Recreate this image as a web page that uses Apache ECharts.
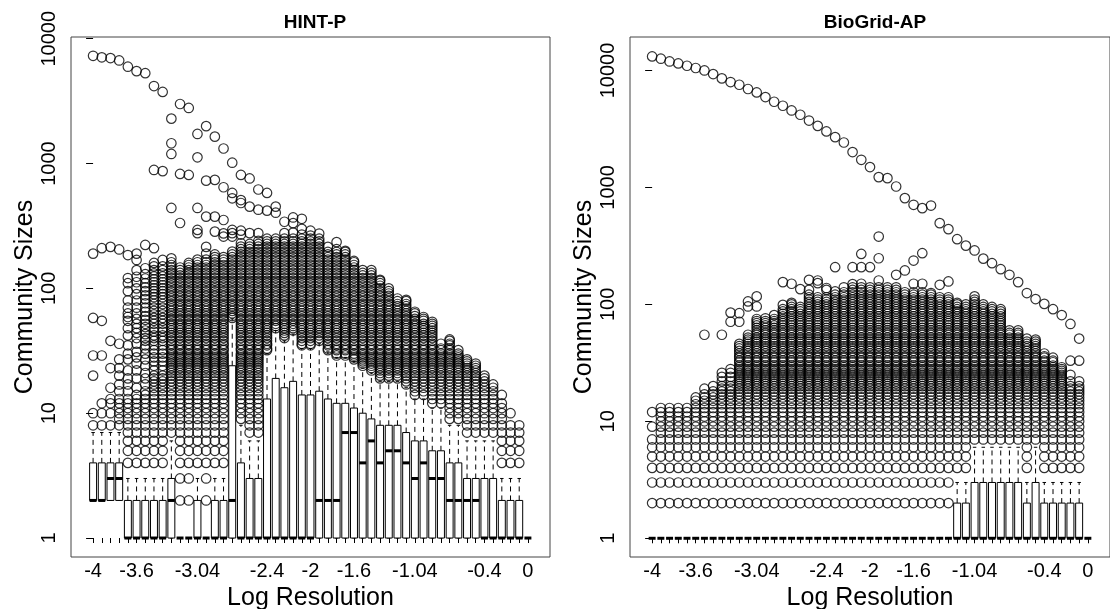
<!DOCTYPE html>
<html><head><meta charset="utf-8">
<script src="https://cdn.jsdelivr.net/npm/echarts@6/dist/echarts.min.js"></script>
<style>html,body{margin:0;padding:0;background:#fff}#c{width:1110px;height:609px}</style>
</head><body><div id="c"></div>
<script>
// ---------- categories / ticks ----------
const resolution = ['-4','-3.92','-3.84','-3.76','-3.68','-3.6','-3.52','-3.44','-3.36','-3.28','-3.2','-3.12','-3.04','-2.96','-2.88','-2.8','-2.72','-2.64','-2.56','-2.48','-2.4','-2.32','-2.24','-2.16','-2.08','-2','-1.92','-1.84','-1.76','-1.68','-1.6','-1.52','-1.44','-1.36','-1.28','-1.2','-1.12','-1.04','-0.96','-0.88','-0.8','-0.72','-0.64','-0.56','-0.48','-0.4','-0.32','-0.24','-0.16','-0.08','0'];
const xLabelShown = ['-4','-3.6','-3.04','-2.4','-2','-1.6','-1.04','-0.4','0'];
const yTickLabels = [1,10,100,1000,10000];

// ---------- HINT-P box statistics ----------
const hintMin = [2,2,2,2,1,1,1,1,1,1,1,1,1,1,1,1,1,1,1,1,1,1,1,1,1,1,1,1,1,1,1,1,1,1,1,1,1,1,1,1,1,1,1,1,1,1,1,1,1,1,1];
const hintQ1  = [2,2,2,2,1,1,1,1,1,1,1,1,1,1,1,1,1,1,1,1,1,1,1,1,1,1,1,1,1,1,1,1,1,1,1,1,1,1,1,1,1,1,1,1,1,1,1,1,1,1,1];
const hintMed = [2,2,3,3,1,1,1,1,1,2,1,1,1,1,1,1,2,1,1,1,1,1,1,1,1,1,2,2,2,7,7,4,6,4,5,5,4,3,4,3,3,2,2,2,2,1,1,1,1,1,1];
const hintQ3  = [4,4,4,4,2,2,2,2,2,3,1,1,2,1,2,2,24,4,3,3,13,19,16,18,14,14,15,13,12,12,11,10,9,8,8,8,7,6,6,5,5,4,4,3,3,3,3,2,2,2,1];
const hintMax = [7,7,7,7,3,3,3,3,3,6,1,1,3,1,3,3,57,8,6,6,30,46,38,43,33,33,36,31,28,28,26,23,21,18,18,18,16,13,13,11,11,8,8,6,6,6,6,3,3,3,1];
const hintOutliers = [
[8,10,20,29,58,190,7300],
[8,10,12,29,55,210,7100],
[8,10,12,13,16,23,38,215,7000],
[8,9,10,11,12,13,15,17,20,23,27,36,205,6700],
[4,5,6,7,8,9,10,11,12,13,15,17,19,22,27,30,35,42,48,55,59,63,70,80,95,110,121,185,5970],
[4,5,6,7,8,9,10,11,12,13,14,16,19,22,25,28,31,36,40,44,48,52,57,63,70,80,90,100,112,124,140,169,190,5500],
[4,5,6,7,8,9,10,11,12,13,14,15,17,19,21,24,27,30,33,35,38,40,43,46,49,52,56,60,65,70,76,82,88,95,102,110,120,130,145,223,5300],
[4,5,6,7,8,9,10,11,12,13,14,15,16,17,18,19,20,22,24,26,28,30,32,35,38,40,42,45,48,52,55,58,62,66,70,75,80,85,90,95,100,106,112,118,125,132,140,150,160,210,889,4180],
[4,5,6,7,8,9,10,11,12,13,14,15,16,17,18,19,20,22,24,26,28,30,32,35,38,40,42,45,48,52,55,58,62,66,70,75,80,85,90,95,100,106,112,118,125,132,140,150,169,870,3750],
[7,8,9,10,11,12,13,14,15,16,17,18,19,20,21,22,23,24,25,26,27,28,29,30,32,33,35,36,38,40,42,44,46,48,50,52,55,57,60,63,66,69,72,75,79,83,87,91,95,100,105,110,115,121,127,133,140,147,154,162,174,441,1194,1455,2290],
[2,3,4,5,6,7,8,9,10,11,12,13,14,15,16,17,18,19,20,21,22,23,24,25,26,27,28,29,30,32,33,35,36,38,40,42,44,46,48,50,52,55,57,60,63,66,69,72,75,79,83,87,91,95,100,105,110,115,121,127,133,140,147,334,826,3000],
[2,3,4,5,6,7,8,9,10,11,12,13,14,15,16,17,18,19,20,21,22,23,24,25,26,27,28,29,30,32,33,35,36,38,40,42,44,46,48,50,52,55,57,60,63,66,69,72,75,79,83,87,91,95,100,105,110,115,121,127,133,140,147,154,160,811,2790],
[4,5,6,7,8,9,10,11,12,13,14,15,16,17,18,19,20,21,22,23,24,25,26,27,28,29,30,32,33,35,36,38,40,42,44,46,48,50,52,55,57,60,63,66,69,72,75,79,83,87,91,95,100,105,110,115,121,127,133,140,147,154,162,170,277,294,441,1122,1727],
[2,3,4,5,6,7,8,9,10,11,12,13,14,15,16,17,18,19,20,21,22,23,24,25,26,27,28,29,30,32,33,35,36,38,40,42,44,46,48,50,52,55,57,60,63,66,69,72,75,79,83,87,91,95,100,105,110,115,121,127,133,140,147,154,162,170,190,215,376,730,1995],
[4,5,6,7,8,9,10,11,12,13,14,15,16,17,18,19,20,21,22,23,24,25,26,27,28,29,30,32,33,35,36,38,40,42,44,46,48,50,52,55,57,60,63,66,69,72,75,79,83,87,91,95,100,105,110,115,121,127,133,140,147,154,162,170,178,187,285,376,740,1643],
[4,5,6,7,8,9,10,11,12,13,14,15,16,17,18,19,20,21,22,23,24,25,26,27,28,29,30,32,33,35,36,38,40,42,44,46,48,50,52,55,57,60,63,66,69,72,75,79,83,87,91,95,100,105,110,115,121,127,133,140,147,154,162,170,178,260,276,353,646,1320],
[58,60,63,66,69,72,75,79,83,87,91,95,100,105,110,115,121,127,133,140,147,154,162,170,178,187,197,260,277,294,527,582,1016],
[9,10,11,12,13,14,15,16,17,18,19,20,21,22,23,24,25,26,27,28,29,30,32,33,35,36,38,40,42,44,46,48,50,52,55,57,60,63,66,69,72,75,79,83,87,91,95,100,105,110,115,121,127,133,140,147,154,162,170,178,187,196,206,216,230,270,290,483,510,811],
[7,8,9,10,11,12,13,14,15,16,17,18,19,20,21,22,23,24,25,26,27,28,29,30,32,33,35,36,38,40,42,44,46,48,50,52,55,57,60,63,66,69,72,75,79,83,87,91,95,100,105,110,115,121,127,133,140,147,154,162,170,178,187,196,206,216,227,277,452,760],
[7,8,9,10,11,12,13,14,15,16,17,18,19,20,21,22,23,24,25,26,27,28,29,30,32,33,35,36,38,40,42,44,46,48,50,52,55,57,60,63,66,69,72,75,79,83,87,91,95,100,105,110,115,121,127,133,140,147,154,162,170,178,187,196,206,216,227,240,277,427,620],
[32,33,35,36,38,40,42,44,46,48,50,52,55,57,60,63,66,69,72,75,79,83,87,91,95,100,105,110,115,121,127,133,140,147,154,162,170,178,187,196,206,216,227,238,250,420,582],
[48,50,52,55,57,60,63,66,69,72,75,79,83,87,91,95,100,105,110,115,121,127,133,140,147,154,162,170,178,187,196,206,216,227,238,250,404,452],
[40,42,44,46,48,50,52,55,57,60,63,66,69,72,75,79,83,87,91,95,100,105,110,115,121,127,133,140,147,154,162,170,178,187,196,206,216,227,238,250,277,342],
[46,48,50,52,55,57,60,63,66,69,72,75,79,83,87,91,95,100,105,110,115,121,127,133,140,147,154,162,170,178,187,196,206,216,227,238,250,280,333,370],
[35,36,38,40,42,44,46,48,50,52,55,57,60,63,66,69,72,75,79,83,87,91,95,100,105,110,115,121,127,133,140,147,154,162,170,178,187,196,206,216,227,238,250,270,300,361],
[35,36,38,40,42,44,46,48,50,52,55,57,60,63,66,69,72,75,79,83,87,91,95,100,105,110,115,121,127,133,140,147,154,162,170,178,187,196,206,216,227,238,250,265,290],
[38,40,42,44,46,48,50,52,55,57,60,63,66,69,72,75,79,83,87,91,95,100,105,110,115,121,127,133,140,147,154,162,170,178,187,196,206,216,227,238,250,275],
[32,33,35,36,38,40,42,44,46,48,50,52,55,57,60,63,66,69,72,75,79,83,87,91,95,100,105,110,115,121,127,133,140,147,154,162,170,178,187,196,215],
[29,30,32,33,35,36,38,40,42,44,46,48,50,52,55,57,60,63,66,69,72,75,79,83,87,91,95,100,105,110,115,121,127,133,140,147,154,162,170,178,187,196,206,235],
[29,30,32,33,35,36,38,40,42,44,46,48,50,52,55,57,60,63,66,69,72,75,79,83,87,91,95,100,105,110,115,121,127,133,140,147,154,162,170,178,187,196,200],
[27,28,29,30,32,33,35,36,38,40,42,44,46,48,50,52,55,57,60,63,66,69,72,75,79,83,87,91,95,100,105,110,115,121,127,133,140,147,154,162,166],
[24,25,26,27,28,29,30,32,33,35,36,38,40,42,44,46,48,50,52,55,57,60,63,66,69,72,75,79,83,87,91,95,100,105,110,115,121,127,133,140],
[22,23,24,25,26,27,28,29,30,32,33,35,36,38,40,42,44,46,48,50,52,55,57,60,63,66,69,72,75,79,83,87,91,95,100,105,110,115,121,127,133,140],
[19,20,21,22,23,24,25,26,27,28,29,30,32,33,35,36,38,40,42,44,46,48,50,52,55,57,60,63,66,69,72,75,79,83,87,91,95,100,105,110,115,117],
[19,20,21,22,23,24,25,26,27,28,29,30,32,33,35,36,38,40,42,44,46,48,50,52,55,57,60,63,66,69,72,75,79,83,87,91,95,100],
[19,20,21,22,23,24,25,26,27,28,29,30,32,33,35,36,38,40,42,44,46,48,50,52,55,57,60,63,66,69,72,75,79,83],
[17,18,19,20,21,22,23,24,25,26,27,28,29,30,32,33,35,36,38,40,42,44,46,48,50,52,55,57,60,63,66,69,72,75,79,81],
[14,15,16,17,18,19,20,21,22,23,24,25,26,27,28,29,30,32,33,35,36,38,40,42,44,46,48,50,52,55,57,60,63,65],
[14,15,16,17,18,19,20,21,22,23,24,25,26,27,28,29,30,32,33,35,36,38,40,42,44,46,48,50,52,55,57,59],
[12,13,14,15,16,17,18,19,20,21,22,23,24,25,26,27,28,29,30,32,33,35,36,38,40,42,44,46,48,50,52,54],
[12,13,14,15,16,17,18,19,20,21,22,23,24,25,26,27,28,29,30,32,33,36],
[9,10,11,12,13,14,15,16,17,18,19,20,21,22,23,24,25,26,27,28,29,30,32,33,35,36,38,39],
[9,10,11,12,13,14,15,16,17,18,19,20,21,22,23,24,25,26,27,28,29,30,32],
[7,8,9,10,11,12,13,14,15,16,17,18,19,20,21,22,23,24,25,26,27],
[7,8,9,10,11,12,13,14,15,16,17,18,19,20,21,22,23,24,25],
[7,8,9,10,11,12,13,14,15,16,17,18,19,20],
[7,8,9,10,11,12,13,14,15,16,17],
[4,5,6,7,8,9,10,11,12,14],
[4,5,6,7,8,10],
[4,5,6,7,8],
[]
];

// ---------- BioGrid-AP box statistics ----------
const bioMin = [1,1,1,1,1,1,1,1,1,1,1,1,1,1,1,1,1,1,1,1,1,1,1,1,1,1,1,1,1,1,1,1,1,1,1,1,1,1,1,1,1,1,1,1,1,1,1,1,1,1,1];
const bioQ1  = [1,1,1,1,1,1,1,1,1,1,1,1,1,1,1,1,1,1,1,1,1,1,1,1,1,1,1,1,1,1,1,1,1,1,1,1,1,1,1,1,1,1,1,1,1,1,1,1,1,1,1];
const bioMed = [1,1,1,1,1,1,1,1,1,1,1,1,1,1,1,1,1,1,1,1,1,1,1,1,1,1,1,1,1,1,1,1,1,1,1,1,1,1,1,1,1,1,1,1,1,1,1,1,1,1,1];
const bioQ3  = [1,1,1,1,1,1,1,1,1,1,1,1,1,1,1,1,1,1,1,1,1,1,1,1,1,1,1,1,1,1,1,1,1,1,1,2,2,3,3,3,3,3,3,2,3,2,2,2,2,2,1];
const bioMax = [1,1,1,1,1,1,1,1,1,1,1,1,1,1,1,1,1,1,1,1,1,1,1,1,1,1,1,1,1,1,1,1,1,1,1,3,3,6,6,6,6,6,6,3,6,3,3,3,3,3,1];
const bioOutliers = [
[2,3,4,5,6,7,9,12,13180],
[2,3,4,5,6,7,8,9,10,11,12,13,12600],
[2,3,4,5,6,7,8,9,10,11,12,13,11940],
[2,3,4,5,6,7,8,9,10,11,12,13,11480],
[2,3,4,5,6,7,8,9,10,11,12,13,10970],
[2,3,4,5,6,7,8,9,10,11,12,13,14,15,16,10490],
[2,3,4,5,6,7,8,9,10,11,12,13,14,15,16,17,19,55,10000],
[2,3,4,5,6,7,8,9,10,11,12,13,14,15,16,17,18,20,9310],
[2,3,4,5,6,7,8,9,10,11,12,13,14,15,16,17,18,19,20,22,24,26,55,8550],
[2,3,4,5,6,7,8,9,10,11,12,13,14,15,16,17,18,19,20,22,24,26,28,71,85,7960],
[2,3,4,5,6,7,8,9,10,11,12,13,14,15,16,17,18,19,20,21,22,23,24,25,26,27,28,29,30,32,33,35,36,38,40,42,44,46,71,84,7550],
[2,3,4,5,6,7,8,9,10,11,12,13,14,15,16,17,18,19,20,21,22,23,24,25,26,27,28,29,30,32,33,35,36,38,40,42,44,46,48,50,52,55,96,106,6940],
[2,3,4,5,6,7,8,9,10,11,12,13,14,15,16,17,18,19,20,21,22,23,24,25,26,27,28,29,30,32,33,35,36,38,40,42,44,46,48,50,52,55,57,60,63,66,69,72,75,96,117,6490],
[2,3,4,5,6,7,8,9,10,11,12,13,14,15,16,17,18,19,20,21,22,23,24,25,26,27,28,29,30,32,33,35,36,38,40,42,44,46,48,50,52,55,57,60,63,66,69,72,76,5920],
[2,3,4,5,6,7,8,9,10,11,12,13,14,15,16,17,18,19,20,21,22,23,24,25,26,27,28,29,30,32,33,35,36,38,40,42,44,46,48,50,52,55,57,60,63,66,69,72,75,81,5400],
[2,3,4,5,6,7,8,9,10,11,12,13,14,15,16,17,18,19,20,21,22,23,24,25,26,27,28,29,30,32,33,35,36,38,40,42,44,46,48,50,52,55,57,60,63,66,69,72,75,79,83,87,91,99,155,4990],
[2,3,4,5,6,7,8,9,10,11,12,13,14,15,16,17,18,19,20,21,22,23,24,25,26,27,28,29,30,32,33,35,36,38,40,42,44,46,48,50,52,55,57,60,63,66,69,72,75,79,83,87,91,95,100,103,150,4550],
[2,3,4,5,6,7,8,9,10,11,12,13,14,15,16,17,18,19,20,21,22,23,24,25,26,27,28,29,30,32,33,35,36,38,40,42,44,46,48,50,52,55,57,60,63,66,69,72,75,79,83,87,91,95,135,4180],
[2,3,4,5,6,7,8,9,10,11,12,13,14,15,16,17,18,19,20,21,22,23,24,25,26,27,28,29,30,32,33,35,36,38,40,42,44,46,48,50,52,55,57,60,63,66,69,72,75,79,83,87,91,95,100,105,110,115,121,133,162,3730],
[2,3,4,5,6,7,8,9,10,11,12,13,14,15,16,17,18,19,20,21,22,23,24,25,26,27,28,29,30,32,33,35,36,38,40,42,44,46,48,50,52,55,57,60,63,66,69,72,75,79,83,87,91,95,100,105,110,115,152,160,3360],
[2,3,4,5,6,7,8,9,10,11,12,13,14,15,16,17,18,19,20,21,22,23,24,25,26,27,28,29,30,32,33,35,36,38,40,42,44,46,48,50,52,55,57,60,63,66,69,72,75,79,83,87,91,95,100,105,110,115,133,138,3010],
[2,3,4,5,6,7,8,9,10,11,12,13,14,15,16,17,18,19,20,21,22,23,24,25,26,27,28,29,30,32,33,35,36,38,40,42,44,46,48,50,52,55,57,60,63,66,69,72,75,79,83,87,91,95,100,105,110,115,121,129,208,2690],
[2,3,4,5,6,7,8,9,10,11,12,13,14,15,16,17,18,19,20,21,22,23,24,25,26,27,28,29,30,32,33,35,36,38,40,42,44,46,48,50,52,55,57,60,63,66,69,72,75,79,83,87,91,95,100,105,110,115,121,127,140,2420],
[2,3,4,5,6,7,8,9,10,11,12,13,14,15,16,17,18,19,20,21,22,23,24,25,26,27,28,29,30,32,33,35,36,38,40,42,44,46,48,50,52,55,57,60,63,66,69,72,75,79,83,87,91,95,100,105,110,115,121,127,133,140,149,208,2005],
[2,3,4,5,6,7,8,9,10,11,12,13,14,15,16,17,18,19,20,21,22,23,24,25,26,27,28,29,30,32,33,35,36,38,40,42,44,46,48,50,52,55,57,60,63,66,69,72,75,79,83,87,91,95,100,105,110,115,121,127,133,140,150,208,270,1722],
[2,3,4,5,6,7,8,9,10,11,12,13,14,15,16,17,18,19,20,21,22,23,24,25,26,27,28,29,30,32,33,35,36,38,40,42,44,46,48,50,52,55,57,60,63,66,69,72,75,79,83,87,91,95,100,105,110,115,121,127,133,140,208,1492],
[2,3,4,5,6,7,8,9,10,11,12,13,14,15,16,17,18,19,20,21,22,23,24,25,26,27,28,29,30,32,33,35,36,38,40,42,44,46,48,50,52,55,57,60,63,66,69,72,75,79,83,87,91,95,100,105,110,115,121,127,133,140,160,248,380,1225],
[2,3,4,5,6,7,8,9,10,11,12,13,14,15,16,17,18,19,20,21,22,23,24,25,26,27,28,29,30,32,33,35,36,38,40,42,44,46,48,50,52,55,57,60,63,66,69,72,75,79,83,87,91,95,100,105,110,115,121,127,133,140,1200],
[2,3,4,5,6,7,8,9,10,11,12,13,14,15,16,17,18,19,20,21,22,23,24,25,26,27,28,29,30,32,33,35,36,38,40,42,44,46,48,50,52,55,57,60,63,66,69,72,75,79,83,87,91,95,100,105,110,115,121,127,133,140,179,1018],
[2,3,4,5,6,7,8,9,10,11,12,13,14,15,16,17,18,19,20,21,22,23,24,25,26,27,28,29,30,32,33,35,36,38,40,42,44,46,48,50,52,55,57,60,63,66,69,72,75,79,83,87,91,95,100,105,110,115,121,127,195,810],
[2,3,4,5,6,7,8,9,10,11,12,13,14,15,16,17,18,19,20,21,22,23,24,25,26,27,28,29,30,32,33,35,36,38,40,42,44,46,48,50,52,55,57,60,63,66,69,72,75,79,83,87,91,95,100,105,110,115,121,127,150,237,710],
[2,3,4,5,6,7,8,9,10,11,12,13,14,15,16,17,18,19,20,21,22,23,24,25,26,27,28,29,30,32,33,35,36,38,40,42,44,46,48,50,52,55,57,60,63,66,69,72,75,79,83,87,91,95,100,105,110,115,121,127,150,274,665],
[2,3,4,5,6,7,8,9,10,11,12,13,14,15,16,17,18,19,20,21,22,23,24,25,26,27,28,29,30,32,33,35,36,38,40,42,44,46,48,50,52,55,57,60,63,66,69,72,75,79,83,87,91,95,100,105,110,115,121,125,700],
[2,3,4,5,6,7,8,9,10,11,12,13,14,15,16,17,18,19,20,21,22,23,24,25,26,27,28,29,30,32,33,35,36,38,40,42,44,46,48,50,52,55,57,60,63,66,69,72,75,79,83,87,91,95,100,105,110,115,147,495],
[2,3,4,5,6,7,8,9,10,11,12,13,14,15,16,17,18,19,20,21,22,23,24,25,26,27,28,29,30,32,33,35,36,38,40,42,44,46,48,50,52,55,57,60,63,66,69,72,75,79,83,87,91,95,100,105,110,115,157,440],
[4,5,6,7,8,9,10,11,12,13,14,15,16,17,18,19,20,21,22,23,24,25,26,27,28,29,30,32,33,35,36,38,40,42,44,46,48,50,52,55,57,60,63,66,69,72,75,79,83,87,91,95,100,103,361],
[4,5,6,7,8,9,10,11,12,13,14,15,16,17,18,19,20,21,22,23,24,25,26,27,28,29,30,32,33,35,36,38,40,42,44,46,48,50,52,55,57,60,63,66,69,72,75,79,83,87,91,95,100,318],
[7,8,9,10,11,12,13,14,15,16,17,18,19,20,21,22,23,24,25,26,27,28,29,30,32,33,35,36,38,40,42,44,46,48,50,52,55,57,60,63,66,69,72,75,79,83,87,91,95,100,105,110,117,289],
[7,8,9,10,11,12,13,14,15,16,17,18,19,20,21,22,23,24,25,26,27,28,29,30,32,33,35,36,38,40,42,44,46,48,50,52,55,57,60,63,66,69,72,75,79,83,87,91,95,100,246],
[7,8,9,10,11,12,13,14,15,16,17,18,19,20,21,22,23,24,25,26,27,28,29,30,32,33,35,36,38,40,42,44,46,48,50,52,55,57,60,63,66,69,72,75,79,83,87,91,95,225],
[7,8,9,10,11,12,13,14,15,16,17,18,19,20,21,22,23,24,25,26,27,28,29,30,32,33,35,36,38,40,42,44,46,48,50,52,55,57,60,63,66,69,72,75,79,83,87,91,200],
[7,8,9,10,11,12,13,14,15,16,17,18,19,20,21,22,23,24,25,26,27,28,29,30,32,33,35,36,38,40,42,44,46,48,50,52,55,57,60,179],
[7,8,9,10,11,12,13,14,15,16,17,18,19,20,21,22,23,24,25,26,27,28,29,30,32,33,35,36,38,40,42,44,46,48,50,52,55,57,60,155],
[4,5,6,7,8,9,10,11,12,13,14,15,16,17,18,19,20,21,22,23,24,25,26,27,28,29,30,32,33,35,36,38,40,42,44,46,48,51,125],
[7,8,9,10,11,12,13,14,15,16,17,18,19,20,21,22,23,24,25,26,27,28,29,30,32,33,35,36,38,40,42,44,46,48,50,111],
[4,5,6,7,8,9,10,11,12,13,14,15,16,17,18,19,20,21,22,23,24,25,26,27,28,29,30,32,33,35,36,38,101],
[4,5,6,7,8,9,10,11,12,13,14,15,16,17,18,19,20,21,22,23,24,25,26,27,28,29,30,32,33,35,91],
[4,5,6,7,8,9,10,11,12,13,14,15,16,17,18,19,20,21,22,23,24,25,26,27,28,29,81],
[4,5,6,7,8,9,10,11,12,13,14,15,16,17,18,19,20,22,25,33,68],
[4,5,6,7,8,9,10,11,12,13,14,15,16,17,18,19,20,22,33,51],
[]
];

// ---------- build ----------
const FONT = "'Liberation Sans', Arial, Helvetica, sans-serif";
const lg = v => Math.log10(v);
const xPos = resolution.map((_, k) => k);
const xLabelPos = xLabelShown.map(s => resolution.indexOf(s));

function boxData(mn, q1, md, q3, mx) {
  return xPos.map(k => [k, lg(mn[k]), lg(q1[k]), lg(md[k]), lg(q3[k]), lg(mx[k])]);
}
function outlierData(lists) {
  const out = [];
  lists.forEach((l, k) => l.forEach(v => out.push([k, lg(v)])));
  return out;
}
function renderBox(params, api) {
  const k = api.value(0);
  const unit = Math.abs(api.size([1, 0])[0]);
  const half = unit * 0.4, st = half * 0.5;
  const pMin = api.coord([k, api.value(1)]);
  const pQ1 = api.coord([k, api.value(2)]);
  const pMed = api.coord([k, api.value(3)]);
  const pQ3 = api.coord([k, api.value(4)]);
  const pMax = api.coord([k, api.value(5)]);
  const x = pMed[0];
  const seg = (x1, y1, x2, y2, lw, dash) => {
    const style = { stroke: '#000', lineWidth: lw };
    if (dash) style.lineDash = dash;
    return { type: 'line', shape: { x1, y1, x2, y2 }, style };
  };
  const ch = [];
  if (pMax[1] < pQ3[1]) ch.push(seg(x, pQ3[1], x, pMax[1], 1, [5, 4]));
  if (pMin[1] > pQ1[1]) ch.push(seg(x, pQ1[1], x, pMin[1], 1, [5, 4]));
  ch.push(seg(x - st, pMax[1], x + st, pMax[1], 1));
  ch.push(seg(x - st, pMin[1], x + st, pMin[1], 1));
  if (pQ1[1] - pQ3[1] > 0.5) {
    ch.push({ type: 'rect', shape: { x: x - half, y: pQ3[1], width: 2 * half, height: pQ1[1] - pQ3[1] },
      style: { fill: '#fff', stroke: '#000', lineWidth: 1 } });
  }
  ch.push(seg(x - half, pMed[1], x + half, pMed[1], 3));
  return { type: 'group', children: ch };
}

const yRange = [[-0.152, 4.014], [-0.160, 4.286]];
function xAxis(i) {
  return {
    type: 'value', gridIndex: i, min: -2.54, max: 52.54,
    axisLine: { show: false }, splitLine: { show: false },
    axisTick: { show: true, customValues: xPos, length: 5, lineStyle: { color: '#000', width: 1 } },
    axisLabel: { customValues: xLabelPos, formatter: v => resolution[Math.round(v)], fontSize: 20, color: '#000', fontFamily: FONT, margin: 4 },
    name: 'Log Resolution', nameLocation: 'middle', nameGap: 29,
    nameTextStyle: { fontSize: 25, color: '#000', fontFamily: FONT }
  };
}
function yAxis(i) {
  const t = yTickLabels.map(lg);
  return {
    type: 'value', gridIndex: i, min: yRange[i][0], max: yRange[i][1],
    axisLine: { show: false }, splitLine: { show: false },
    axisTick: { show: true, customValues: t, length: 7, lineStyle: { color: '#000', width: 1 } },
    axisLabel: { customValues: t, rotate: 90, formatter: v => String(Math.round(Math.pow(10, v))), fontSize: 20, color: '#000', fontFamily: FONT, margin: 12 },
    name: 'Community Sizes', nameLocation: 'middle', nameRotate: 90, nameGap: 30,
    nameTextStyle: { fontSize: 25, color: '#000', fontFamily: FONT }
  };
}
const scatterStyle = { color: 'rgba(0,0,0,0)', borderColor: '#000', borderWidth: 1.2 };

const chart = echarts.init(document.getElementById('c'), null, { renderer: 'canvas' });
chart.setOption({
  animation: false,
  backgroundColor: '#fff',
  title: [
    { text: 'HINT-P', left: 310, top: 8, textAlign: 'center', textStyle: { fontSize: 19, fontWeight: 'bold', color: '#000', fontFamily: FONT } },
    { text: 'BioGrid-AP', left: 870, top: 8, textAlign: 'center', textStyle: { fontSize: 19, fontWeight: 'bold', color: '#000', fontFamily: FONT } }
  ],
  grid: [
    { left: 71, top: 37, width: 479, height: 520, show: true, borderColor: '#444', borderWidth: 1, backgroundColor: 'transparent', outerBoundsMode: 'none' },
    { left: 630, top: 37, width: 480, height: 520, show: true, borderColor: '#444', borderWidth: 1, backgroundColor: 'transparent', outerBoundsMode: 'none' }
  ],
  xAxis: [xAxis(0), xAxis(1)],
  yAxis: [yAxis(0), yAxis(1)],
  series: [
    { type: 'custom', xAxisIndex: 0, yAxisIndex: 0, renderItem: renderBox, data: boxData(hintMin, hintQ1, hintMed, hintQ3, hintMax), z: 2, progressive: 0, silent: true },
    { type: 'scatter', xAxisIndex: 0, yAxisIndex: 0, data: outlierData(hintOutliers), symbol: 'circle', symbolSize: 9.5, itemStyle: scatterStyle, z: 3, progressive: 0, large: false, silent: true },
    { type: 'custom', xAxisIndex: 1, yAxisIndex: 1, renderItem: renderBox, data: boxData(bioMin, bioQ1, bioMed, bioQ3, bioMax), z: 2, progressive: 0, silent: true },
    { type: 'scatter', xAxisIndex: 1, yAxisIndex: 1, data: outlierData(bioOutliers), symbol: 'circle', symbolSize: 9.5, itemStyle: scatterStyle, z: 3, progressive: 0, large: false, silent: true }
  ]
});
</script>
</body></html>
